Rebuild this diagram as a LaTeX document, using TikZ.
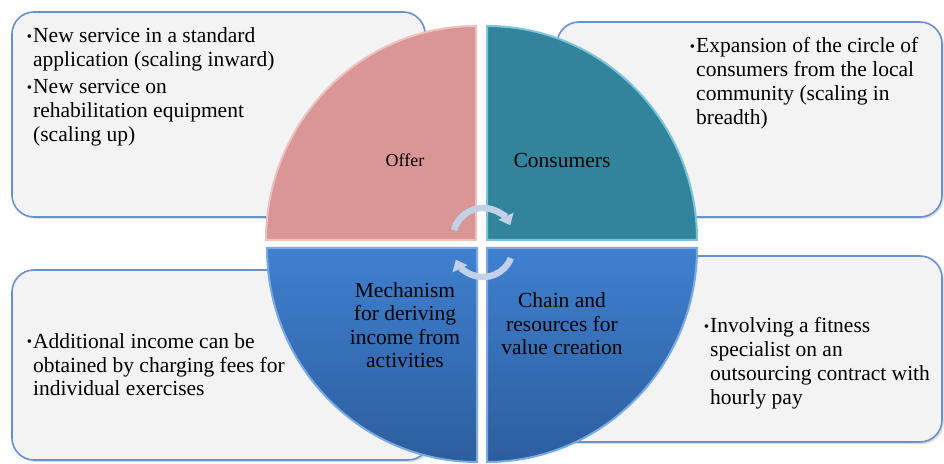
\documentclass[tikz,border=0pt]{standalone}
\usepackage{fontspec}
\setmainfont{Liberation Serif}
\usetikzlibrary{arrows.meta,shadows}

\definecolor{offerpink}{HTML}{D99694}
\definecolor{offeredge}{HTML}{ECC2C1}
\definecolor{consteal}{HTML}{31849B}
\definecolor{consedge}{HTML}{7CC5D8}
\definecolor{mechtop}{HTML}{3F80CF}
\definecolor{mechbot}{HTML}{2C5E9E}
\definecolor{mechedge}{HTML}{7BA9E3}
\definecolor{boxedge}{HTML}{6A90CC}
\definecolor{boxfill}{HTML}{F3F3F3}
\definecolor{cyclefill}{HTML}{C3D1E8}

\newcommand{\bul}{\llap{{\fontsize{15}{15}\selectfont\raisebox{1pt}{•}}\hspace{1pt}}}

\tikzset{
  infobox/.style={draw=boxedge, line width=1.6pt, fill=boxfill, rounded corners=22pt,
    drop shadow={opacity=0.25, shadow xshift=2pt, shadow yshift=-2pt}, inner sep=0pt},
  infotext/.style={anchor=base west, align=left, inner sep=0pt, font=\fontsize{21.5}{24}\selectfont},
  quadlabel/.style={anchor=base, align=center, inner sep=0pt, font=\fontsize{21.5}{23.5}\selectfont},
  cyclearrow/.style={line width=6.5pt, draw=cyclefill, -{Triangle[width=16pt,length=10pt]}}
}

\begin{document}
\begin{tikzpicture}[x=1pt, y=1pt]
\useasboundingbox[fill=white] (0,0) rectangle (944,463);
% text boxes
\node[infobox, minimum width=413pt, minimum height=205pt] (offerbox) at (218.5,348.5) {};
\node[infobox, minimum width=385pt, minimum height=195pt] (consbox) at (749.5,343.5) {};
\node[infobox, minimum width=418pt, minimum height=190pt] (mechbox) at (221,98) {};
\node[infobox, minimum width=402pt, minimum height=186pt] (chainbox) at (741,114) {};
% quadrants
\path[fill=offerpink, draw=offeredge, line width=2pt] (476,223) -- (266,223)
  arc[start angle=180, end angle=90, x radius=210, y radius=214] -- cycle;
\path[fill=consteal, draw=consedge, line width=2pt] (487,223) -- (487,437)
  arc[start angle=90, end angle=0, x radius=210, y radius=214] -- cycle;
\path[top color=mechtop, bottom color=mechbot, draw=mechedge, line width=2pt] (477,215) -- (477,1)
  arc[start angle=270, end angle=180, x radius=210, y radius=214] -- cycle;
\path[top color=mechtop, bottom color=mechbot, draw=mechedge, line width=2pt] (487,215) -- (697,215)
  arc[start angle=0, end angle=-90, x radius=210, y radius=214] -- cycle;
% quadrant labels (base = last line)
\node[quadlabel, font=\fontsize{18}{20}\selectfont] (offer) at (405,296) {Offer};
\node[quadlabel] (cons) at (562,295) {Consumers};
\node[quadlabel] (mech) at (405,95.5) {Mechanism\\for deriving\\income from\\activities};
\node[quadlabel] (chain) at (562,108) {Chain and\\resources for\\value creation};
% cycle arrows
\draw[cyclearrow] (483,225) ++(165:30) arc[start angle=165, end angle=25, radius=30];
\draw[cyclearrow] (483,216) ++(-22:30) arc[start angle=-22, end angle=-155, radius=30];
% box texts
\node[infotext] (offertext) at (33,321) {\bul New service in a standard\\application (scaling inward)\\[3pt]\bul New service on\\rehabilitation equipment\\(scaling up)};
\node[infotext] (constext) at (696,338) {\bul Expansion of the circle of\\consumers from the local\\community (scaling in\\breadth)};
\node[infotext] (mechtext) at (33,67) {\bul Additional income can be\\obtained by charging fees for\\individual exercises};
\node[infotext] (chaintext) at (710,59) {\bul Involving a fitness\\specialist on an\\outsourcing contract with\\hourly pay};
\end{tikzpicture}
\end{document}
